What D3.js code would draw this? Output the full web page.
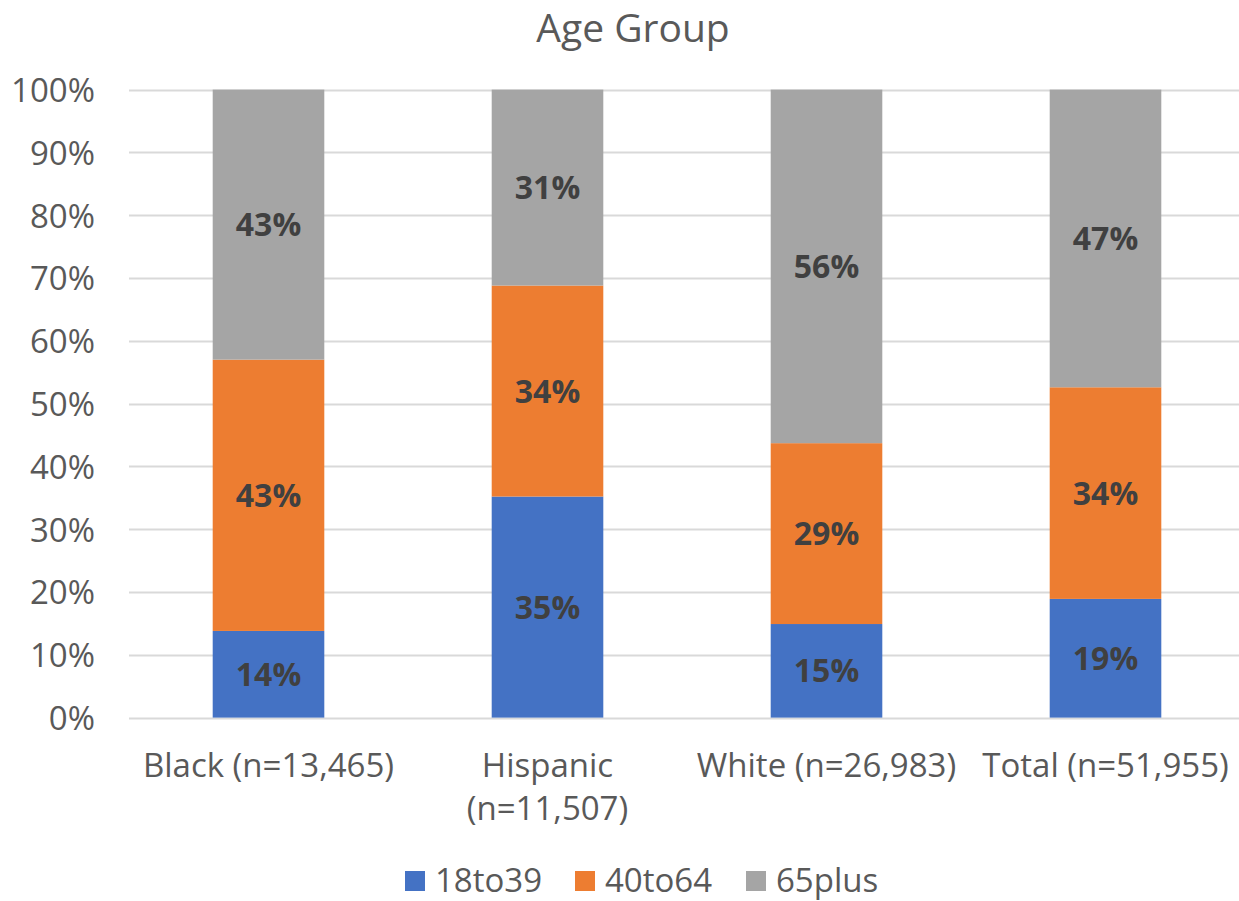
<!DOCTYPE html>
<html>
<head>
<meta charset="utf-8">
<script src="https://cdn.jsdelivr.net/npm/d3@7"></script>
<style>
  html, body { margin: 0; padding: 0; background: #ffffff; }
  svg { display: block; font-family: "Open Sans", "Noto Sans", sans-serif; }
</style>
</head>
<body>
<svg id="chart" width="1239" height="901"></svg>
<script>
// Share of respondents in each age group, by race/ethnicity (fractions of 1)
const categories = ["Black (n=13,465)", "Hispanic\n(n=11,507)", "White (n=26,983)", "Total (n=51,955)"];
const seriesNames = ["18to39", "40to64", "65plus"];
const age18to39 = [0.138, 0.352, 0.149, 0.189];
const age40to64 = [0.432, 0.336, 0.288, 0.337];
const age65plus = [0.430, 0.312, 0.563, 0.474];
const seriesColors = ["#4472c4", "#ed7d31", "#a5a5a5"];
const yTicks = [0, 0.1, 0.2, 0.3, 0.4, 0.5, 0.6, 0.7, 0.8, 0.9, 1.0];
const chartTitle = "Age Group";

const rows = categories.map((c, i) => ({
  category: c,
  "18to39": age18to39[i],
  "40to64": age40to64[i],
  "65plus": age65plus[i]
}));

const svg = d3.select("#chart");
const W = 1239;

const x = d3.scaleBand()
  .domain(categories)
  .range([129, 1245])
  .paddingInner(0.6)
  .paddingOuter(0.3);

const y = d3.scaleLinear().domain([0, 1]).range([717.6, 89.6]);

const color = d3.scaleOrdinal().domain(seriesNames).range(seriesColors);

// Title
svg.append("text")
  .attr("x", 633)
  .attr("y", 42)
  .attr("text-anchor", "middle")
  .attr("fill", "#595959")
  .attr("font-size", 39)
  .text(chartTitle);

// Horizontal gridlines
svg.append("g")
  .selectAll("line")
  .data(yTicks)
  .join("line")
  .attr("x1", 129)
  .attr("x2", W)
  .attr("y1", d => Math.round(y(d)) + 0.5)
  .attr("y2", d => Math.round(y(d)) + 0.5)
  .attr("stroke", "#d9d9d9")
  .attr("stroke-width", 2);

// Y axis labels
const yAxis = d3.axisLeft(y)
  .tickValues(yTicks)
  .tickFormat(d3.format(".0%"))
  .tickSize(0)
  .tickPadding(0);

svg.append("g")
  .attr("transform", "translate(95,0)")
  .call(yAxis)
  .call(g => g.select(".domain").remove())
  .call(g => g.selectAll("text")
    .attr("fill", "#595959")
    .attr("font-size", 33)
    .attr("font-family", "\"Open Sans\", sans-serif")
    .attr("dy", "0.36em"));

// Stacked bars
const stack = d3.stack().keys(seriesNames);
const layers = stack(rows);

const layerG = svg.append("g")
  .selectAll("g")
  .data(layers)
  .join("g")
  .attr("fill", d => color(d.key));

layerG.selectAll("rect")
  .data(d => d)
  .join("rect")
  .attr("x", d => x(d.data.category))
  .attr("width", x.bandwidth())
  .attr("y", d => y(d[1]))
  .attr("height", d => y(d[0]) - y(d[1]));

// Value labels centred in each segment
const pct = d3.format(".0%");
svg.append("g")
  .selectAll("g")
  .data(layers)
  .join("g")
  .selectAll("text")
  .data(d => d.map(p => ({ p, key: d.key })))
  .join("text")
  .attr("x", d => x(d.p.data.category) + x.bandwidth() / 2)
  .attr("y", d => (y(d.p[0]) + y(d.p[1])) / 2)
  .attr("dy", "0.36em")
  .attr("text-anchor", "middle")
  .attr("font-size", 32)
  .attr("font-weight", "bold")
  .attr("fill", "#404040")
  .text(d => pct(d.p.data[d.key]));

// Category labels (may span two lines)
const xAxis = d3.axisBottom(x).tickSize(0).tickPadding(0);
const xg = svg.append("g")
  .attr("transform", "translate(0,718)")
  .call(xAxis);
xg.select(".domain").remove();
xg.selectAll("text").remove();
xg.selectAll(".tick")
  .append("text")
  .attr("text-anchor", "middle")
  .attr("fill", "#595959")
  .attr("font-size", 33)
  .attr("font-family", "\"Open Sans\", sans-serif")
  .selectAll("tspan")
  .data(d => d.split("\n"))
  .join("tspan")
  .attr("x", 0)
  .attr("y", (d, i) => 59 + i * 43)
  .text(d => d);

// Legend
const legendX = [405, 575, 746];
const legend = svg.append("g")
  .selectAll("g")
  .data(seriesNames)
  .join("g")
  .attr("transform", (d, i) => `translate(${legendX[i]},0)`);

legend.append("rect")
  .attr("x", 0)
  .attr("y", 871)
  .attr("width", 20)
  .attr("height", 20)
  .attr("fill", d => color(d));

legend.append("text")
  .attr("x", 30)
  .attr("y", 892)
  .attr("fill", "#595959")
  .attr("font-size", 33)
  .text(d => d);
</script>
</body>
</html>
